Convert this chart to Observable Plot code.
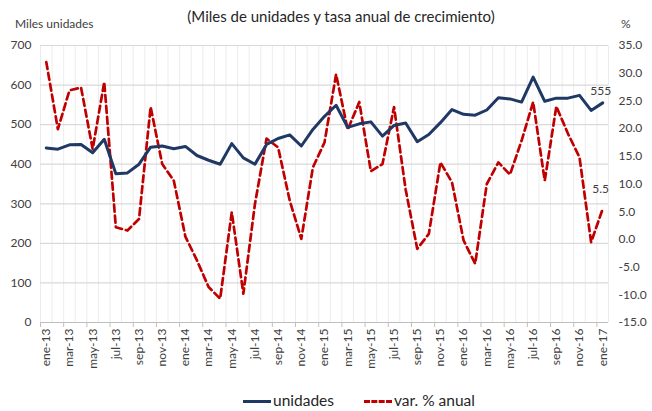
<!DOCTYPE html>
<html>
<head>
<meta charset="utf-8">
<script src="https://cdn.jsdelivr.net/npm/d3@7"></script>
<script src="https://cdn.jsdelivr.net/npm/@observablehq/plot@0.6"></script>
<style>
  html, body { margin: 0; padding: 0; background: #fff; }
  #wrap { position: relative; width: 652px; height: 411px; font-family: Lato, "Open Sans", sans-serif; color: #404040; }
  #title { position: absolute; top: 7px; left: 0; width: 682px; text-align: center; font-size: 15px; color: #262626; }
  .lab { position: absolute; top: 16px; font-size: 12px; color: #404040; }
  #legend { position: absolute; top: 391px; left: 0; width: 652px; font-size: 15.5px; color: #262626; }
  .item { position: absolute; top: 0; white-space: nowrap; }
  .sw { display: inline-block; width: 28px; height: 0; vertical-align: middle; margin-right: 2px; position: relative; top: -1px; }
</style>
</head>
<body>
<div id="wrap">
  <div id="chart"></div>
  <div id="title">(Miles de unidades y tasa anual de crecimiento)</div>
  <div class="lab" style="left:15px">Miles unidades</div>
  <div class="lab" style="left:621px">%</div>
  <div id="legend">
    <span class="item" style="left:243px"><span class="sw" style="border-top:3px solid #1f3864"></span>unidades</span>
    <span class="item" style="left:364px"><span class="sw" style="border-top:3px dashed #c00000"></span>var. % anual</span>
  </div>
</div>
<script>
const monthNames = ["ene","feb","mar","abr","may","jun","jul","ago","sep","oct","nov","dic"];
const years = ["13","14","15","16"];
const months = [...years.flatMap(y => monthNames.map(m => `${m}-${y}`)), "ene-17"];

const unidades = [
  441, 438, 449, 450, 429, 463, 376, 378, 400, 443, 446, 439,
  445, 422, 410, 400, 452, 416, 400, 450, 465, 474, 446, 488,
  521, 549, 493, 502, 507, 471, 498, 504, 457, 475, 505, 538,
  526, 524, 537, 568, 565, 557, 620, 559, 567, 567, 574, 536,
  555
];
const varAnual = [
  32.0, 19.9, 26.9, 27.4, 16.3, 28.4, 2.2, 1.6, 3.7, 23.9, 13.6, 10.6,
  0.5, -3.8, -8.6, -10.7, 4.9, -9.8, 6.4, 18.2, 16.6, 7.0, 0.1, 13.0,
  17.5, 29.8, 19.8, 24.8, 12.3, 13.6, 23.9, 9.0, -1.7, 1.0, 13.9, 10.3,
  -0.2, -4.4, 10.0, 13.9, 11.7, 17.8, 24.8, 10.6, 24.0, 19.1, 14.8, -0.5,
  5.5
];
const leftTicks = [0, 100, 200, 300, 400, 500, 600, 700];
const rightTicks = [-15, -10, -5, 0, 5, 10, 15, 20, 25, 30, 35];

// right axis (-15..35) mapped onto left scale (0..700)
const toLeft = v => (v + 15) * 14;
const fromLeft = v => v / 14 - 15;

const W = 652, H = 411, mL = 40, mR = 44, mT = 45, mB = 89;
const step = (W - mL - mR) / months.length;

const rows = months.map((m, i) => ({m, u: unidades[i], v: varAnual[i]}));
const labeled = months.filter((d, i) => i % 2 === 0);
const last = rows[rows.length - 1];

const chart = Plot.plot({
  width: W, height: H,
  marginLeft: mL, marginRight: mR, marginTop: mT, marginBottom: mB,
  style: {fontFamily: "Lato, 'Open Sans', sans-serif", fontSize: "12px", color: "#404040", background: "white"},
  x: {type: "point", domain: months, padding: 0.5, round: false},
  y: {domain: [0, 700]},
  marks: [
    Plot.ruleX(months, {x: d => d, dx: -step / 2, stroke: "#ececec", strokeWidth: 1}),
    Plot.ruleX([months[months.length - 1]], {x: d => d, dx: step / 2, stroke: "#ececec", strokeWidth: 1}),
    Plot.ruleY(leftTicks.slice(1), {stroke: "#d9d9d9", strokeWidth: 1.2}),
    Plot.ruleY([0], {stroke: "#bfbfbf", strokeWidth: 1.2}),
    Plot.ruleX(labeled, {x: d => d, dx: -step / 2, y1: 0, y2: 0, insetBottom: -5, stroke: "#bfbfbf"}),
    Plot.axisY({ticks: leftTicks, tickSize: 0, tickPadding: 9, fontSize: 12, label: null}),
    Plot.axisY({anchor: "right", ticks: rightTicks.map(toLeft), tickFormat: d => fromLeft(d).toFixed(1), tickSize: 0, tickPadding: 10, textAnchor: "start", fontSize: 12, label: null}),
    Plot.axisX({ticks: labeled, tickRotate: -90, tickSize: 0, tickPadding: 6, fontSize: 12, label: null}),
    Plot.line(rows, {x: "m", y: d => toLeft(d.v), stroke: "#c00000", strokeWidth: 2.7, strokeDasharray: "7,4"}),
    Plot.line(rows, {x: "m", y: "u", stroke: "#1f3864", strokeWidth: 3}),
    Plot.text([last], {x: "m", y: "u", text: d => String(d.u), dy: -12, dx: -2, fontSize: 12, fill: "#404040"}),
    Plot.text([last], {x: "m", y: d => toLeft(d.v), text: d => d.v.toFixed(1), dy: -20, dx: -2, fontSize: 12, fill: "#404040"})
  ]
});
document.getElementById("chart").appendChild(chart);
</script>
</body>
</html>
